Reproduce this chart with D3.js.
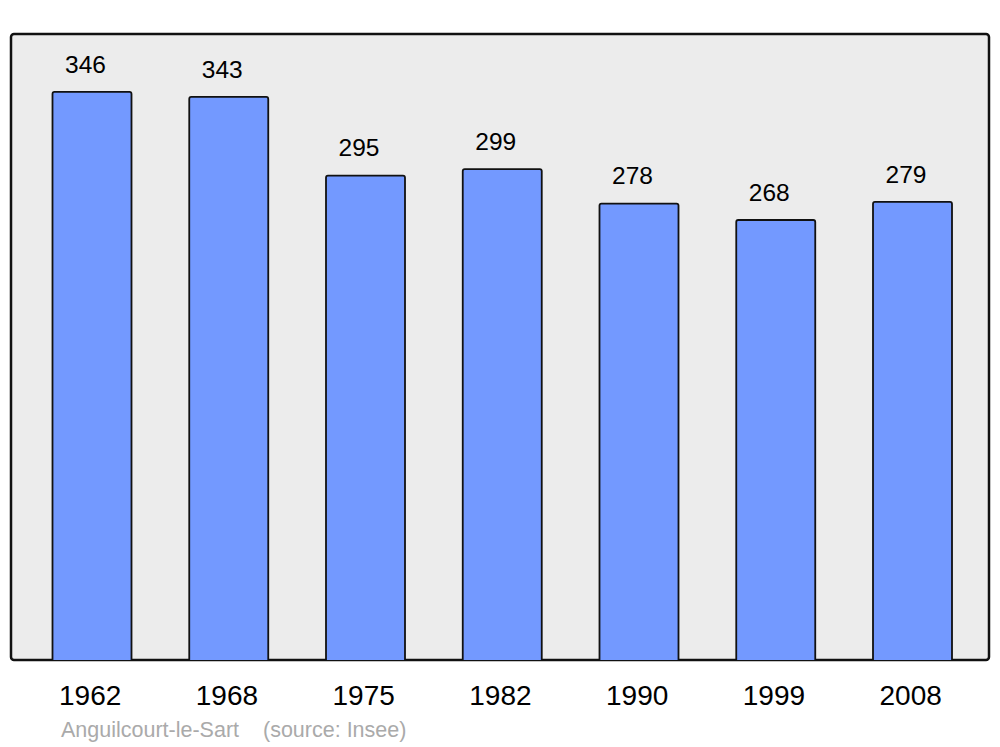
<!DOCTYPE html>
<html><head><meta charset="utf-8">
<script src="https://cdn.jsdelivr.net/npm/d3@7"></script>
<style>body{margin:0;background:#fff}svg{display:block}</style>
</head><body>
<script>
const years = ["1962","1968","1975","1982","1990","1999","2008"];
const population = [346,343,295,299,278,268,279];
const townName = "Anguilcourt-le-Sart";
const sourceText = "(source: Insee)";

const W = 1000, H = 747;
const plot = {left: 11, right: 989, top: 34, bottom: 660};
const svg = d3.select("body").append("svg").attr("width", W).attr("height", H);

svg.append("rect").attr("x", plot.left).attr("y", plot.top)
  .attr("width", plot.right - plot.left).attr("height", plot.bottom - plot.top)
  .attr("rx", 3).attr("fill", "#ececec").attr("stroke", "#111").attr("stroke-width", 2.5);

const step = 136.75;
const x = d3.scaleBand().domain(years)
  .range([92 - step/2, 92 - step/2 + step*years.length])
  .paddingInner(0.4223).paddingOuter(0.4223/2);
const y = d3.scaleLinear().domain([0, 381.3]).range([plot.bottom, plot.top]);

const data = years.map((yr, i) => ({year: yr, value: population[i]}));

svg.selectAll("path.bar").data(data).enter().append("path")
  .attr("class", "bar")
  .attr("d", d => {
    const x0 = x(d.year), x1 = x0 + x.bandwidth(), y0 = y(d.value), yb = y(0), r = 2;
    return `M${x0},${yb} L${x0},${y0 + r} Q${x0},${y0} ${x0 + r},${y0} L${x1 - r},${y0} Q${x1},${y0} ${x1},${y0 + r} L${x1},${yb}`;
  })
  .attr("fill", "#7399ff").attr("stroke", "#111").attr("stroke-width", 1.8);

svg.selectAll("text.val").data(data).enter().append("text")
  .attr("class", "val")
  .attr("x", d => x(d.year) + x.bandwidth()/2 - 6.5)
  .attr("y", d => y(d.value) - 19.3)
  .attr("text-anchor", "middle")
  .attr("font-family", "Liberation Sans, Arial, sans-serif")
  .attr("font-size", 24.5).attr("fill", "#000")
  .text(d => d.value);

svg.selectAll("text.yr").data(data).enter().append("text")
  .attr("class", "yr")
  .attr("x", d => x(d.year) + x.bandwidth()/2 - 1.8)
  .attr("y", 705)
  .attr("text-anchor", "middle")
  .attr("font-family", "Liberation Sans, Arial, sans-serif")
  .attr("font-size", 28).attr("fill", "#000")
  .text(d => d.year);

svg.append("text").attr("x", 61).attr("y", 737)
  .attr("font-family", "Liberation Sans, Arial, sans-serif")
  .attr("font-size", 21.5).attr("fill", "#aaaaaa")
  .text(townName);
svg.append("text").attr("x", 263).attr("y", 737)
  .attr("font-family", "Liberation Sans, Arial, sans-serif")
  .attr("font-size", 21.5).attr("fill", "#aaaaaa")
  .text(sourceText);
</script>
</body></html>
